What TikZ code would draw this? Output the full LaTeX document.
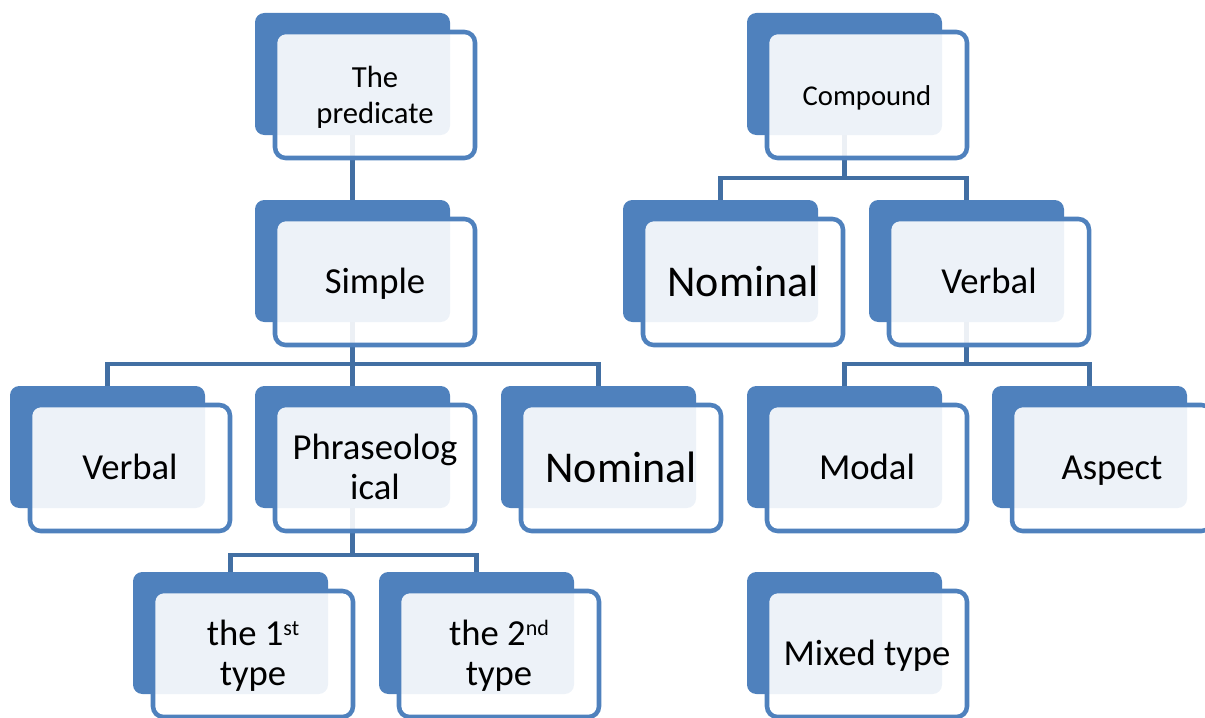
\documentclass[tikz,border=0pt]{standalone}
\usepackage{fontspec}
\setmainfont{Carlito}
\usetikzlibrary{calc}
\definecolor{boxblue}{RGB}{79,129,189}
\definecolor{linkblue}{RGB}{66,111,163}

\begin{document}
\begin{tikzpicture}[x=0.75pt,y=-0.75pt,
  backbox/.style={rectangle, rounded corners=7pt, fill=boxblue,
    minimum width=146.25pt, minimum height=91.5pt, inner sep=0pt, outer sep=0pt},
  frontbox/.style={rectangle, rounded corners=8pt, draw=boxblue, line width=3.4pt,
    fill=white, fill opacity=0.9,
    minimum width=150pt, minimum height=94.5pt, inner sep=0pt, outer sep=0pt},
  lbl/.style={text=black, align=center, inner sep=0pt, yshift=-2.6pt,
    font=\fontsize{27.5}{30}\selectfont},
  bigtext/.style={font=\fontsize{33}{40}\selectfont},
  link/.style={draw=linkblue, line width=3.4pt}
]
\clip (0,0) rectangle (1205,717);

% back panels
\node[backbox] (pred-b)    at (352.5,74)  {};
\node[backbox] (simple-b)  at (352.5,261) {};
\node[backbox] (verbalL-b) at (107.5,447) {};
\node[backbox] (phras-b)   at (352.5,447) {};
\node[backbox] (nomL-b)    at (598.5,447) {};
\node[backbox] (first-b)   at (230.5,633) {};
\node[backbox] (second-b)  at (476.5,633) {};
\node[backbox] (comp-b)    at (844.5,74)  {};
\node[backbox] (nomR-b)    at (720.5,261) {};
\node[backbox] (verbalR-b) at (966.5,261) {};
\node[backbox] (modal-b)   at (844.5,447) {};
\node[backbox] (aspect-b)  at (1089.5,447) {};
\node[backbox] (mixed-b)   at (844.5,633) {};

% connectors
\draw[link] (pred-b.south) -- (simple-b.north);

\coordinate (simple-j) at ($(simple-b.south)+(0,42)$);
\draw[link] (verbalL-b.north) |- (simple-j) -| (nomL-b.north);
\draw[link] (simple-b.south) -- (phras-b.north);

\coordinate (phras-j) at ($(phras-b.south)+(0,47)$);
\draw[link] (first-b.north) |- (phras-j) -| (second-b.north);
\draw[link] (phras-b.south) -- (phras-j);

\coordinate (comp-j) at ($(comp-b.south)+(0,43)$);
\draw[link] (nomR-b.north) |- (comp-j) -| (verbalR-b.north);
\draw[link] (comp-b.south) -- (comp-j);

\coordinate (verbalR-j) at ($(verbalR-b.south)+(0,42)$);
\draw[link] (modal-b.north) |- (verbalR-j) -| (aspect-b.north);
\draw[link] (verbalR-b.south) -- (verbalR-j);

% front panels
\node[frontbox] (pred-f)    at (375,95)   {};
\node[frontbox] (simple-f)  at (375,282)  {};
\node[frontbox] (verbalL-f) at (130,468)  {};
\node[frontbox] (phras-f)   at (375,468)  {};
\node[frontbox] (nomL-f)    at (621,468)  {};
\node[frontbox] (first-f)   at (253,654)  {};
\node[frontbox] (second-f)  at (499,654)  {};
\node[frontbox] (comp-f)    at (867,95)   {};
\node[frontbox] (nomR-f)    at (743,282)  {};
\node[frontbox] (verbalR-f) at (989,282)  {};
\node[frontbox] (modal-f)   at (867,468)  {};
\node[frontbox] (aspect-f)  at (1112,468) {};
\node[frontbox] (mixed-f)   at (867,654)  {};

% labels
\node[lbl, font=\fontsize{23}{27}\selectfont] (pred-t) at (pred-f) {\strut The\\\strut predicate};
\node[lbl] (simple-t)  at (simple-f)  {\strut Simple};
\node[lbl] (verbalL-t) at (verbalL-f) {\strut Verbal};
\node[lbl] (phras-t)   at (phras-f)   {\strut Phraseolog\\\strut ical};
\node[lbl, bigtext] (nomL-t) at (nomL-f) {\strut Nominal};
\node[lbl] (first-t)   at (first-f)   {\strut the 1\raisebox{7.5pt}{\fontsize{16.5}{16.5}\selectfont st}\\\strut type};
\node[lbl] (second-t)  at (second-f)  {\strut the 2\raisebox{7.5pt}{\fontsize{16.5}{16.5}\selectfont nd}\\\strut type};
\node[lbl, font=\fontsize{21.5}{26}\selectfont] (comp-t) at (comp-f) {\strut Compound};
\node[lbl, bigtext] (nomR-t) at (nomR-f) {\strut Nominal};
\node[lbl] (verbalR-t) at (verbalR-f) {\strut Verbal};
\node[lbl] (modal-t)   at (modal-f)   {\strut Modal};
\node[lbl] (aspect-t)  at (aspect-f)  {\strut Aspect};
\node[lbl] (mixed-t)   at (mixed-f)   {\strut Mixed type};
\end{tikzpicture}
\end{document}
